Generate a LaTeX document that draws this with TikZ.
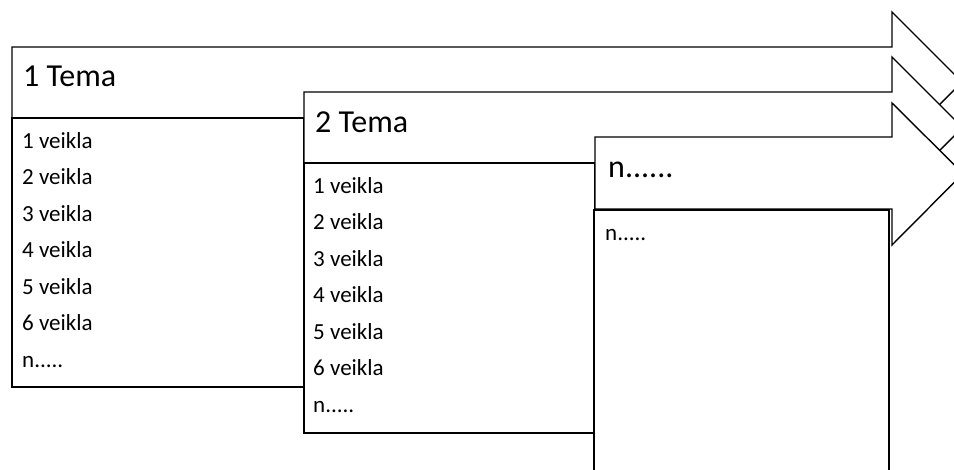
\documentclass[tikz,border=0pt]{standalone}
\usepackage{fontspec}
\setmainfont{Carlito}

\tikzset{
  tema/.style={draw=black, fill=white, line width=1.4pt, line join=miter},
  veiklos/.style={draw=black, fill=white, line width=1.4pt},
  antraste/.style={anchor=base west, inner sep=0pt, font=\fontsize{32}{38}\selectfont},
  eilute/.style={anchor=base west, inner sep=0pt, font=\fontsize{23}{27}\selectfont},
}

\begin{document}
\begin{tikzpicture}[x=1pt,y=-1pt]
	\useasboundingbox (0,0) rectangle (954,469);
	\clip (0,0) rectangle (954,469);
	
	% 1 tema
	\draw[tema] (12,47) -- (892,47) -- (892,12) -- (962,82) -- (892,152)
	-- (892,118) -- (12,118) -- cycle;
	\draw[veiklos] (12,118) rectangle (304,387);
	\node[antraste] (t1) at (23,86) {1 Tema};
	\foreach \i in {1,...,6}
		\node[eilute] (a\i) at (22,{148+36.5*(\i-1)}) {\i{} veikla};
	\node[eilute] (a7) at (22,367) {n.....};
	
	% 2 tema
	\draw[tema] (304,92) -- (892,92) -- (892,57) -- (962.5,127.5) -- (892,198)
	-- (892,163) -- (304,163) -- cycle;
	\draw[veiklos] (304,163) rectangle (595,433);
	\node[antraste] (t2) at (315,132) {2 Tema};
	\foreach \i in {1,...,6}
		\node[eilute] (b\i) at (313,{193+36.5*(\i-1)}) {\i{} veikla};
	\node[eilute] (b7) at (313,412) {n.....};
	
	% n tema
	\draw[tema] (595,137) -- (892,137) -- (892,103) -- (963,173.5) -- (892,245)
	-- (892,209) -- (595,209) -- cycle;
	\draw[veiklos] (594,210) rectangle (889,480);
	\node[antraste] (t3) at (608,177) {n......};
	\node[eilute] (c1) at (605,240) {n.....};
\end{tikzpicture}
\end{document}
